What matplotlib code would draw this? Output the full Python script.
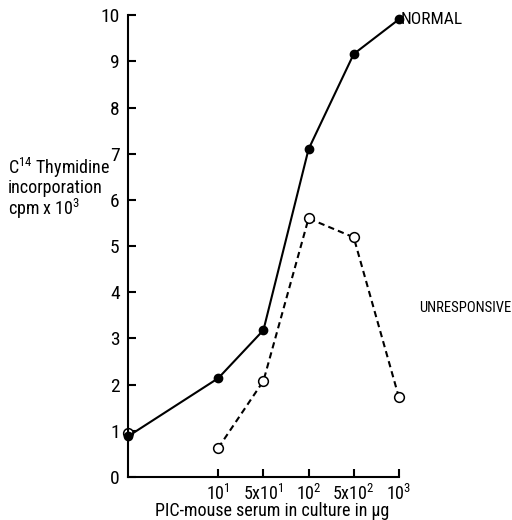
import matplotlib.pyplot as plt
from matplotlib import font_manager

# pick a condensed sans for the typewritten-looking labels
names = {f.name for f in font_manager.fontManager.ttflist}
PREFER = ['Roboto Condensed', 'PT Sans Narrow', 'Archivo Narrow', 'Fira Sans Condensed',
          'Liberation Sans Narrow', 'DejaVu Sans Condensed', 'Open Sans Condensed', 'Abel']
FONT = next((n for n in PREFER if n in names), 'DejaVu Sans')
plt.rcParams['font.family'] = [FONT, 'DejaVu Sans']
plt.rcParams['mathtext.fontset'] = 'custom'
plt.rcParams['mathtext.rm'] = FONT

# DATA
# the original dose axis is hand drawn: doses sit at evenly spaced steps,
# the control (no serum) sits on the axis origin
dose_labels = ['10$^1$', '5x10$^1$', '10$^2$', '5x10$^2$', '10$^3$']
normal_control = 0.88
normal = [2.14, 3.18, 7.1, 9.16, 9.91]
unresp_control = 0.95
unresponsive = [0.63, 2.08, 5.6, 5.19, 1.73]

fig = plt.figure(figsize=(5.12, 5.2), dpi=100)
ax = fig.add_axes([0.25, 0.0827, 0.529, 0.888])

steps = list(range(len(dose_labels)))
ax.set_xlim(-2, steps[-1])
x0 = ax.get_xlim()[0]

ax.plot([x0] + steps, [normal_control] + normal, '-', color='black', lw=1.5,
        marker='o', ms=6, mfc='black', mec='black', zorder=3, clip_on=False)
# control for unresponsive sits on the axis, not joined to the line
ax.plot(steps, unresponsive, '--', color='black', lw=1.5, dashes=(3, 2),
        marker='o', ms=7, mfc='white', mec='black', mew=1.1, zorder=2, clip_on=False)
ax.plot([x0], [unresp_control], 'o', ms=7, mfc='white', mec='black', mew=1.1,
        zorder=2, clip_on=False)

ax.set_ylim(0, 10)
ax.set_xticks(steps)
ax.set_xticklabels(dose_labels)
ax.set_yticks(range(0, 11))

ax.spines['top'].set_visible(False)
ax.spines['right'].set_visible(False)
ax.spines['left'].set_linewidth(1.5)
ax.spines['bottom'].set_linewidth(1.5)
ax.tick_params(direction='in', length=6, width=1.5, labelsize=14, pad=6)
ax.tick_params(axis='x', labelsize=13, pad=5)

ax.text(steps[-1] + 0.05, normal[-1], 'NORMAL', fontsize=12.5, va='center', ha='left')
fig.text(419 / 512, 1 - 308 / 520, 'UNRESPONSIVE', fontsize=10.5, va='center', ha='left')

fig.text(8 / 512, 1 - 156 / 520,
         'C$^{14}$ Thymidine\nincorporation\ncpm x 10$^3$',
         fontsize=13, va='top', ha='left', linespacing=0.95)
fig.text(0.532, 1 - 511 / 520, 'PIC-mouse serum in culture in µg',
         fontsize=13, va='center', ha='center')

fig.savefig('out.png', dpi=100)
